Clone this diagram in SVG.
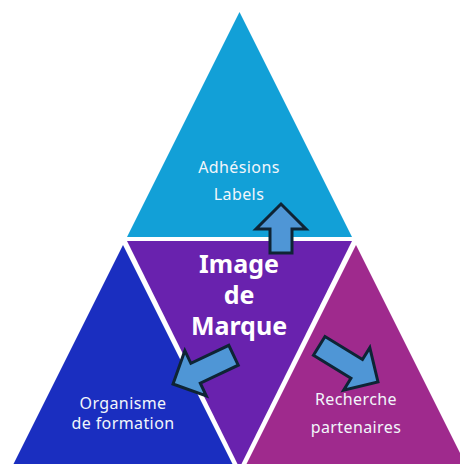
<svg xmlns="http://www.w3.org/2000/svg" width="460" height="464" viewBox="0 0 460 464">
  <defs>
    <style>
      .lbl { font-family: "Noto Sans", "Open Sans", sans-serif; font-size: 16px; letter-spacing: 0.4px; fill: #F2F6FB; text-anchor: middle; }
      .main { font-family: "Noto Sans", "Open Sans", sans-serif; font-size: 25px; font-weight: bold; fill: #FFFFFF; text-anchor: middle; }
      .arrow { fill: #4F96D6; stroke: #0E2435; stroke-width: 3; stroke-linejoin: miter; }
    </style>
  </defs>
  <rect width="460" height="464" fill="#FFFFFF"/>
  <g id="node-top">
    <polygon points="239.5,12 127,237 352,237" fill="#12A0D7"/>
    <text class="lbl" x="239" y="173">Adhésions</text>
    <text class="lbl" x="239" y="200">Labels</text>
  </g>
  <g id="node-left">
    <polygon points="123,245 10.5,470 235.5,470" fill="#1A2EC0"/>
    <text class="lbl" x="123" y="409">Organisme</text>
    <text class="lbl" x="123" y="429">de formation</text>
  </g>
  <g id="node-right">
    <polygon points="356,245 243.5,470 468.5,470" fill="#9F2A8D"/>
    <text class="lbl" x="356" y="405">Recherche</text>
    <text class="lbl" x="356" y="433">partenaires</text>
  </g>
  <g id="node-center">
    <polygon points="127,241 352,241 239.5,468" fill="#6922AE"/>
    <text class="main" x="239" y="273">Image</text>
    <text class="main" x="239" y="304">de</text>
    <text class="main" x="239" y="335">Marque</text>
  </g>
  <g id="connectors">
    <path class="arrow" d="M0,0 L-25,-25 L-25,-11 L-49,-11 L-49,11 L-25,11 L-25,25 Z" transform="translate(281,204) rotate(-90)"/>
    <path class="arrow" d="M0,0 L-25,-25 L-25,-11 L-67,-11 L-67,11 L-25,11 L-25,25 Z" transform="translate(173,384) rotate(154.6)"/>
    <path class="arrow" d="M0,0 L-25,-25 L-25,-11 L-69,-11 L-69,11 L-25,11 L-25,25 Z" transform="translate(378,382) rotate(31.6)"/>
  </g>
</svg>
